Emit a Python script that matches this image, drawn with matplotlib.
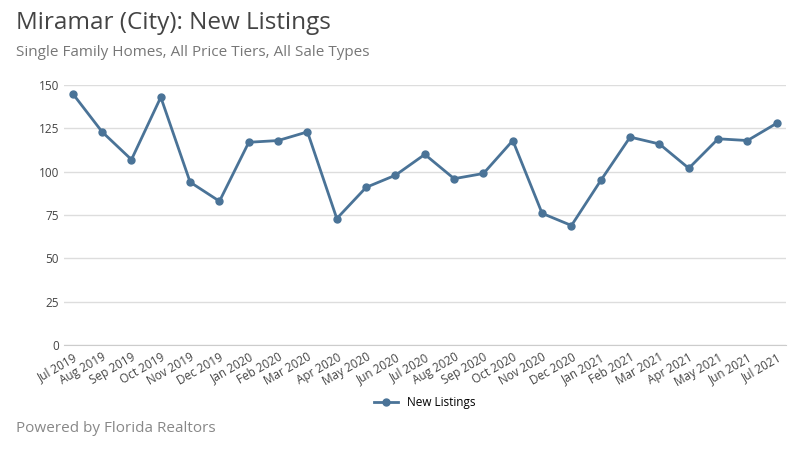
import matplotlib
matplotlib.use("Agg")
import matplotlib.pyplot as plt

months = ["Jul 2019","Aug 2019","Sep 2019","Oct 2019","Nov 2019","Dec 2019","Jan 2020","Feb 2020","Mar 2020","Apr 2020","May 2020","Jun 2020","Jul 2020","Aug 2020","Sep 2020","Oct 2020","Nov 2020","Dec 2020","Jan 2021","Feb 2021","Mar 2021","Apr 2021","May 2021","Jun 2021","Jul 2021"]
listings = [145,123,107,143,94,83,117,118,123,73,91,98,110,96,99,118,76,69,95,120,116,102,119,118,128]
yticks = [0,25,50,75,100,125,150]

plt.rcParams['font.family'] = ['Open Sans', 'DejaVu Sans']
fig = plt.figure(figsize=(8,4.5), dpi=100)
ax = fig.add_axes([0.08, 0.233, 0.902, 0.578])
color = "#4a7397"
x = list(range(len(months)))
ax.plot(x, listings, color=color, lw=2, marker='o', ms=5, label="New Listings")
ax.set_ylim(0,150)
ax.set_yticks(yticks)
ax.set_xlim(-0.3, len(months)-0.7)
ax.set_xticks(x)
ax.set_xticklabels(months, rotation=30, ha='right', rotation_mode='anchor', fontsize=8.5, color='#444444')
ax.tick_params(axis='y', labelsize=8.5, colors='#444444', length=0)
ax.tick_params(axis='x', length=0, pad=4)
ax.grid(axis='y', color='#dddddd', lw=1)
for s in ['top','right','left']:
    ax.spines[s].set_visible(False)
ax.spines['bottom'].set_color('#cccccc')
ax.legend(loc='upper center', bbox_to_anchor=(0.5, -0.155), frameon=False, fontsize=8.5)
fig.text(0.02, 0.935, "Miramar (City): New Listings", fontsize=17.5, color='#444444')
fig.text(0.02, 0.875, "Single Family Homes, All Price Tiers, All Sale Types", fontsize=11, color='#777777')
fig.text(0.02, 0.04, "Powered by Florida Realtors", fontsize=11, color='#888888')
fig.savefig("out.png")
